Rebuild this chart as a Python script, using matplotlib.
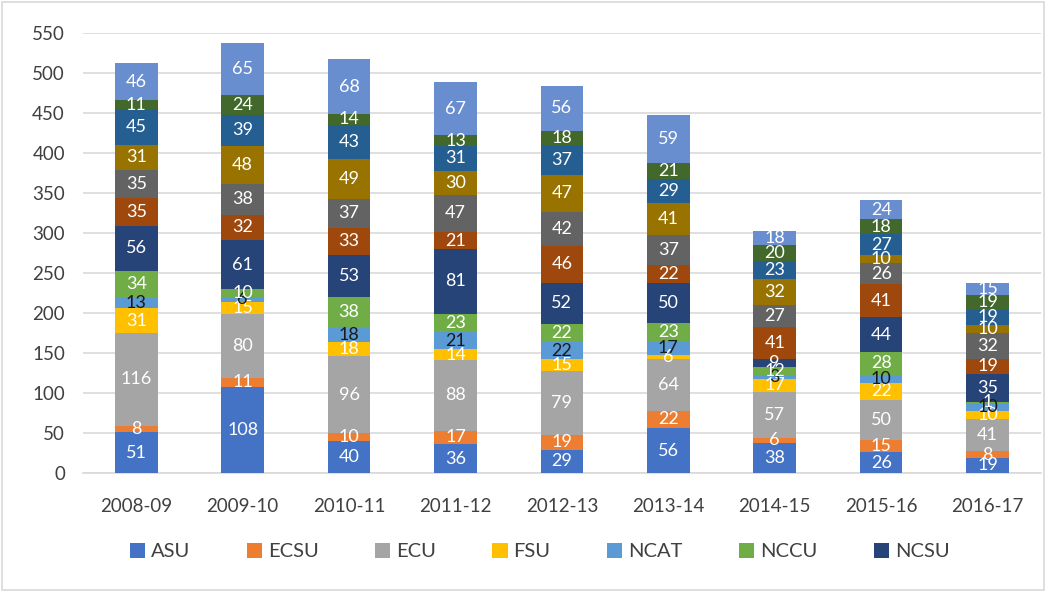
import matplotlib
matplotlib.use("Agg")
import matplotlib.pyplot as plt
from matplotlib.patches import Rectangle
import numpy as np

years = ["2008-09", "2009-10", "2010-11", "2011-12", "2012-13", "2013-14", "2014-15", "2015-16", "2016-17"]

ASU   = [51, 108, 40, 36, 29, 56, 38, 26, 19]
ECSU  = [8, 11, 10, 17, 19, 22, 6, 15, 8]
ECU   = [116, 80, 96, 88, 79, 64, 57, 50, 41]
FSU   = [31, 15, 18, 14, 15, 6, 17, 22, 10]
NCAT  = [13, 6, 18, 21, 22, 17, 3, 10, 10]
NCCU  = [34, 10, 38, 23, 22, 23, 12, 28, 1]
NCSU  = [56, 61, 53, 81, 52, 50, 9, 44, 35]
UNCA  = [35, 32, 33, 21, 46, 22, 41, 41, 19]
UNCCH = [35, 38, 37, 47, 42, 37, 27, 26, 32]
UNCC  = [31, 48, 49, 30, 47, 41, 32, 10, 10]
UNCG  = [45, 39, 43, 31, 37, 29, 23, 27, 19]
UNCP  = [11, 24, 14, 13, 18, 21, 20, 18, 19]
UNCW  = [46, 65, 68, 67, 56, 59, 18, 24, 15]

series_names = ["ASU", "ECSU", "ECU", "FSU", "NCAT", "NCCU", "NCSU",
                "UNCA", "UNC-CH", "UNCC", "UNCG", "UNCP", "UNCW"]
series_vals = [ASU, ECSU, ECU, FSU, NCAT, NCCU, NCSU, UNCA, UNCCH, UNCC, UNCG, UNCP, UNCW]
colors = ["#4472C4", "#ED7D31", "#A5A5A5", "#FFC000", "#5B9BD5", "#70AD47", "#264478",
          "#9E480E", "#636363", "#997300", "#255E91", "#43682B", "#698ED0"]
label_colors = ["white", "white", "white", "white", "#1a1a1a", "white", "white",
                "white", "white", "white", "white", "white", "white"]
n_legend = 7

plt.rcParams['font.family'] = ['Lato', 'DejaVu Sans']

fig = plt.figure(figsize=(10.46, 5.92), dpi=100)
ax = fig.add_axes([0.0794, 0.2010, 0.9156, 0.7433])

x = np.arange(len(years))
bottom = np.zeros(len(years))
handles = []
for name, vals, col, lc in zip(series_names, series_vals, colors, label_colors):
    v = np.array(vals, dtype=float)
    bars = ax.bar(x, v, width=0.4, bottom=bottom, color=col, label=name, zorder=3)
    ax.bar_label(bars, labels=[str(int(a)) for a in v], label_type='center',
                 color=lc, fontsize=13, zorder=4)
    handles.append(bars)
    bottom += v

ax.set_ylim(0, 550)
ax.set_xlim(-0.5, len(years) - 0.5)
ax.set_yticks(np.arange(0, 551, 50))
ax.yaxis.grid(True, color="#D9D9D9", linewidth=1.2, zorder=0)
ax.set_axisbelow(True)
for s in ["top", "right", "left"]:
    ax.spines[s].set_visible(False)
ax.spines["bottom"].set_color("#D9D9D9")
ax.spines["bottom"].set_linewidth(1.2)
ax.tick_params(axis='both', length=0, labelsize=13.5, colors="#404040")
ax.tick_params(axis='y', pad=13)
ax.tick_params(axis='x', pad=18)
ax.set_xticks(x)
ax.set_xticklabels(years)

fig.legend(handles[:n_legend], series_names[:n_legend], loc='center',
           bbox_to_anchor=(0.516, 0.068), ncol=n_legend, frameon=False,
           fontsize=14.5, handlelength=0.75, handleheight=0.75, handletextpad=0.3,
           columnspacing=2.8, labelcolor="#404040")

fig.patches.append(Rectangle((0.002, 0.003), 0.996, 0.994, transform=fig.transFigure,
                             fill=False, edgecolor="#D9D9D9", linewidth=1.2))

fig.savefig("out.png", dpi=100)
